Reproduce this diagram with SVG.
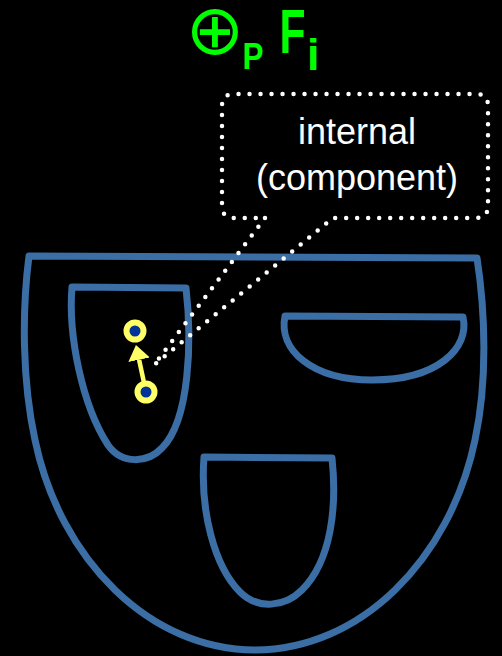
<svg xmlns="http://www.w3.org/2000/svg" width="502" height="656" viewBox="0 0 502 656">
  <style>
    .region { fill: none; stroke: #3a6ea5; stroke-width: 7; stroke-linejoin: round; }
    .dotted { fill: none; stroke: #ffffff; stroke-width: 4.5; stroke-dasharray: 0 11; stroke-linecap: round; stroke-linejoin: round; }
    .label { fill: #ffffff; font-family: "Liberation Sans", Arial, sans-serif; font-size: 36px; text-anchor: middle; }
    .title { fill: #00ff00; font-family: "Liberation Sans", Arial, sans-serif; font-weight: bold; }
    .point { fill: #003399; stroke: #ffff66; stroke-width: 6; }
    .link { stroke: #ffff66; stroke-width: 4.5; fill: none; }
  </style>
  <defs>
    <marker id="head" markerUnits="userSpaceOnUse" viewBox="0 -12 16 24" refX="0" refY="0" markerWidth="16" markerHeight="24" orient="auto">
      <path d="M 0 -11 L 15 0 L 0 11 Z" fill="#ffff66"/>
    </marker>
  </defs>
  <rect width="502" height="656" fill="#000000"/>

  <!-- title -->
  <g id="title">
    <text x="215" y="54" font-size="70" text-anchor="middle" fill="#00ff00" font-family="DejaVu Sans, sans-serif">⊕</text>
    <text class="title" x="242.6" y="69" font-size="36" textLength="21" lengthAdjust="spacingAndGlyphs">P</text>
    <text class="title" x="279.6" y="53" font-size="63" textLength="26" lengthAdjust="spacingAndGlyphs">F</text>
    <text class="title" x="307" y="70" font-size="45">i</text>
  </g>

  <!-- outer region -->
  <g id="outer">
    <path class="region" d="M 29 256 L 477 258 C 485 310 488 380 475 440 C 450 560 360 650 255 650 C 150 650 60 560 35 440 C 22 380 22 310 29 256 Z"/>
  </g>

  <!-- component containing the two points -->
  <g id="component-left">
    <path class="region" d="M 72 287 L 186 288 C 192 340 190 420 162 448 C 148 463 122 465 108 445 C 82 405 68 335 72 287 Z"/>
  </g>

  <g id="component-right">
    <path class="region" d="M 285 316 L 463 317 C 470 348 438 380 372 380 C 312 380 278 350 285 316 Z"/>
  </g>

  <g id="component-bottom">
    <path class="region" d="M 204 457 L 332 458 C 337 505 332 560 302 590 C 285 607 258 610 240 592 C 214 566 200 510 204 457 Z"/>
  </g>

  <!-- callout -->
  <g id="callout">
    <path class="dotted" d="M 265 218 L 154 365 L 333 218 L 476 218 Q 488 218 488 206 L 488 106 Q 488 94 476 94 L 234 94 Q 222 94 222 106 L 222 206 Q 222 218 234 218 Z"/>
    <text class="label" x="357" y="144">internal</text>
    <text class="label" x="357" y="190">(component)</text>
  </g>

  <!-- connectors -->
  <g id="connectors">
    <line class="link" x1="143.7" y1="381.2" x2="139.1" y2="359.7" marker-end="url(#head)"/>
  </g>

  <g id="point-a">
    <circle class="point" cx="135" cy="331" r="8.5"/>
  </g>
  <g id="point-b">
    <circle class="point" cx="146" cy="392" r="8.5"/>
  </g>
</svg>
